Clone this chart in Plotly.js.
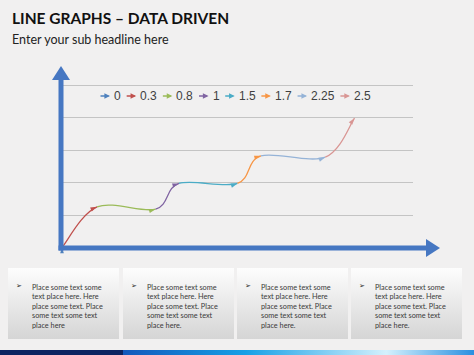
<!DOCTYPE html>
<html><head><meta charset="utf-8">
<script src="https://cdn.plot.ly/plotly-3.0.1.min.js"></script>
<style>html,body{margin:0;padding:0;background:#f1f0f0}#chart{width:474px;height:355px}</style>
</head><body><div id="chart"></div>
<script>
// ---- data ----
const seriesNames = ['0', '0.3', '0.8', '1', '1.5', '1.7', '2.25', '2.5'];
const xValues = [0, 0.3, 0.8, 1, 1.5, 1.7, 2.25, 2.5];
const yValues = [0, 1.25, 1.18, 1.97, 1.97, 2.82, 2.78, 3.98];
const seriesColors = ['#4F81BD', '#C0504D', '#9BBB59', '#8064A2', '#4BACC6', '#F79646', '#95B3D7', '#D99694'];
const titleText = 'LINE GRAPHS \u2013 DATA DRIVEN';
const subText = 'Enter your sub headline here';
const boxTexts = [
  'Place some text some<br>text place here. Here<br>place some text. Place<br>some text some text<br>place here',
  'Place some text some<br>text place here. Here<br>place some text. Place<br>some text some text<br>place here.',
  'Place some text some<br>text place here. Here<br>place some text. Place<br>some text some text<br>place here.',
  'Place some text some<br>text place here. Here<br>place some text. Place<br>some text some text<br>place here.'
];

// ---- layout geometry ----
const W = 474, H = 355;
const px = x => x / W, py = y => 1 - y / H;
const yMax = 5, yPad = 0.2;
const xRange = [0, 3], yRange = [0, yMax + yPad];
const plotL = 62, plotR = 413, plotB = 247.5, plotT = 85;
const kx = (plotR - plotL) / (xRange[1] - xRange[0]);
const ky = (plotB - plotT) / yMax;
const xDom = [px(plotL), px(plotR)];
const yDom = [py(plotB), py(plotT - yPad * ky)];
const axisBlue = '#4677C2';

const n = xValues.length;
const Pt = i => { const j = Math.max(0, Math.min(n - 1, i)); return [xValues[j], yValues[j]]; };

const shapes = [];
const traces = [];
const annotations = [];

// smooth segments (Catmull-Rom as cubic Bezier) drawn in data coordinates
const endAngles = [0];
for (let i = 1; i < n; i++) {
  const pm = Pt(i - 2), p0 = Pt(i - 1), p1 = Pt(i), pp = Pt(i + 1);
  const c1 = [p0[0] + (p1[0] - pm[0]) / 6, p0[1] + (p1[1] - pm[1]) / 6];
  const c2 = [p1[0] - (pp[0] - p0[0]) / 6, p1[1] - (pp[1] - p0[1]) / 6];
  shapes.push({
    type: 'path', xref: 'x', yref: 'y', layer: 'above',
    path: `M${p0[0]},${p0[1]} C${c1[0]},${c1[1]} ${c2[0]},${c2[1]} ${p1[0]},${p1[1]}`,
    line: {color: seriesColors[i], width: 1.3}
  });
  const dx = (p1[0] - c2[0]) * kx, dy = (p1[1] - c2[1]) * ky;
  endAngles.push(Math.atan2(dx, dy) * 180 / Math.PI);
}

// arrow-head markers at the end of each series
for (let i = 0; i < n; i++) {
  traces.push({
    type: 'scatter', mode: 'markers', name: seriesNames[i],
    x: [xValues[i]], y: [yValues[i]],
    marker: {symbol: 'arrow', angle: endAngles[i], size: i === 0 ? 0 : 7, color: seriesColors[i]},
    hoverinfo: 'skip', cliponaxis: false
  });
}

// axis arrows
const ax0 = 61, ay0 = 248;
shapes.push({type: 'line', xref: 'paper', yref: 'paper', x0: px(ax0), y0: py(ay0 + 2.5), x1: px(ax0), y1: py(80), line: {color: axisBlue, width: 5}});
shapes.push({type: 'path', xref: 'paper', yref: 'paper', fillcolor: axisBlue, line: {width: 0},
  path: `M${px(ax0 - 9)},${py(80)} L${px(ax0)},${py(66)} L${px(ax0 + 9)},${py(80)} Z`});
shapes.push({type: 'line', xref: 'paper', yref: 'paper', x0: px(ax0 - 2.5), y0: py(ay0), x1: px(426), y1: py(ay0), line: {color: axisBlue, width: 5}});
shapes.push({type: 'path', xref: 'paper', yref: 'paper', fillcolor: axisBlue, line: {width: 0},
  path: `M${px(426)},${py(ay0 - 9)} L${px(440)},${py(ay0)} L${px(426)},${py(ay0 + 9)} Z`});

// legend (arrow + label), laid out from the series names
const tw = s => [...s].reduce((a, c) => a + (c === '.' ? 3.34 : 6.67), 0);
let lx = 99;
const ly = 96;
for (let i = 0; i < n; i++) {
  annotations.push({xref: 'paper', yref: 'paper', x: px(lx + 11), y: py(ly), ax: -11, ay: 0, text: '',
    showarrow: true, arrowhead: 2, arrowsize: 0.75, arrowwidth: 1.5, arrowcolor: seriesColors[i], standoff: 0});
  annotations.push({xref: 'paper', yref: 'paper', x: px(lx + 13), y: py(ly), xanchor: 'left', yanchor: 'middle',
    text: seriesNames[i], showarrow: false, font: {family: 'Liberation Sans, Arial, sans-serif', size: 12, color: '#404040'}});
  lx += 13 + tw(seriesNames[i]) + 6.5;
}

// titles
annotations.push({xref: 'paper', yref: 'paper', x: px(10), y: py(18), xanchor: 'left', yanchor: 'middle', showarrow: false,
  text: '<b>' + titleText + '</b>', font: {family: 'Lato, sans-serif', size: 15.5, color: '#111111'}});
annotations.push({xref: 'paper', yref: 'paper', x: px(10), y: py(40), xanchor: 'left', yanchor: 'middle', showarrow: false,
  text: subText, font: {family: 'Lato, sans-serif', size: 12.5, color: '#222222'}});

// text boxes
const boxSvg = 'data:image/svg+xml;charset=utf-8,' + encodeURIComponent(
  "<svg xmlns='http://www.w3.org/2000/svg' width='110' height='71' viewBox='0 0 110 71' preserveAspectRatio='none'>" +
  "<defs><linearGradient id='g' x1='0' y1='0' x2='0' y2='1'><stop offset='0' stop-color='#fdfdfd'/><stop offset='1' stop-color='#d5d5d5'/></linearGradient></defs>" +
  "<rect width='110' height='71' fill='url(#g)'/></svg>");
const bandSvg = 'data:image/svg+xml;charset=utf-8,' + encodeURIComponent(
  "<svg xmlns='http://www.w3.org/2000/svg' width='474' height='5' viewBox='0 0 474 5' preserveAspectRatio='none'>" +
  "<defs><linearGradient id='b' x1='0' y1='0' x2='1' y2='0'><stop offset='0' stop-color='#1258bb'/><stop offset='0.35' stop-color='#17a0e6'/><stop offset='0.75' stop-color='#d4f1fd'/><stop offset='1' stop-color='#2a8fe0'/></linearGradient></defs>" +
  "<rect x='0' width='123' height='5' fill='#0c2461'/><rect x='123' width='351' height='5' fill='url(#b)'/></svg>");
const boxLefts = [8, 123, 237, 351];
const images = [];
boxLefts.forEach((bx, k) => {
  images.push({source: boxSvg, xref: 'paper', yref: 'paper', x: px(bx), y: py(268), sizex: 111 / W, sizey: 71 / H,
    xanchor: 'left', yanchor: 'top', sizing: 'stretch', layer: 'below'});
  annotations.push({xref: 'paper', yref: 'paper', x: px(bx + 6), y: py(286), xanchor: 'left', yanchor: 'middle', showarrow: false,
    text: '\u27A2', font: {family: 'DejaVu Sans, sans-serif', size: 7, color: '#222222'}});
  annotations.push({xref: 'paper', yref: 'paper', x: px(bx + 22), y: py(280.5), xanchor: 'left', yanchor: 'top', align: 'left', showarrow: false,
    text: boxTexts[k], font: {family: 'Lato, sans-serif', size: 7.3, color: '#3a3a3a'}});
});
images.push({source: bandSvg, xref: 'paper', yref: 'paper', x: 0, y: py(350), sizex: 1, sizey: 5 / H,
  xanchor: 'left', yanchor: 'top', sizing: 'stretch', layer: 'below'});

const layout = {
  width: W, height: H,
  margin: {l: 0, r: 0, t: 0, b: 0},
  paper_bgcolor: '#f1f0f0', plot_bgcolor: 'rgba(0,0,0,0)',
  showlegend: false,
  xaxis: {domain: xDom, range: xRange, showgrid: false, zeroline: false, showticklabels: false, ticks: '', showline: false, fixedrange: true},
  yaxis: {domain: yDom, range: yRange, tick0: 0, dtick: 1, showgrid: true, gridcolor: '#c4c4c4', gridwidth: 1, zeroline: false, showticklabels: false, ticks: '', showline: false, fixedrange: true},
  shapes: shapes,
  annotations: annotations,
  images: images
};

Plotly.newPlot('chart', traces, layout, {displayModeBar: false, staticPlot: true});
</script></body></html>
